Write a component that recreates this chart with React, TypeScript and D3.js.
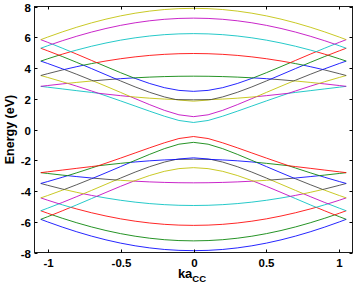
import React, { useEffect, useRef } from "react";
import * as d3 from "d3";

// conduction bands, sorted by energy (cb1 = highest), [ka, E in eV] for ka >= 0
// the plot is mirror symmetric in ka, and the valence bands mirror these in E
const cb1 = [[0, 7.881], [0.1, 7.861], [0.2, 7.802], [0.3, 7.702], [0.4, 7.565], [0.5, 7.39], [0.6, 7.178], [0.7, 6.932], [0.8, 6.654], [0.9, 6.345], [1.0, 6.01], [1.047, 5.843]];
const cb2 = [[0, 7.243], [0.1, 7.224], [0.2, 7.167], [0.3, 7.072], [0.4, 6.941], [0.5, 6.773], [0.6, 6.571], [0.7, 6.335], [0.8, 6.068], [0.9, 5.771], [0.968, 5.552], [1.0, 5.671], [1.047, 5.843]];
const cb3 = [[0, 6.236], [0.1, 6.219], [0.2, 6.168], [0.3, 6.082], [0.4, 5.963], [0.5, 5.811], [0.6, 5.627], [0.7, 5.413], [0.8, 5.169], [0.841, 5.061], [0.9, 5.292], [0.968, 5.552], [1.0, 5.446], [1.047, 5.285]];
const cb4 = [[0, 4.943], [0.1, 4.929], [0.2, 4.888], [0.3, 4.82], [0.4, 4.724], [0.5, 4.603], [0.6, 4.456], [0.664, 4.349], [0.7, 4.496], [0.8, 4.899], [0.841, 5.061], [0.9, 4.897], [0.922, 4.833], [1.0, 5.118], [1.047, 5.285]];
const cb5 = [[0, 3.468], [0.1, 3.462], [0.2, 3.442], [0.3, 3.408], [0.4, 3.362], [0.41, 3.357], [0.5, 3.696], [0.6, 4.092], [0.664, 4.349], [0.7, 4.284], [0.754, 4.181], [0.8, 4.363], [0.9, 4.749], [0.922, 4.833], [1.0, 4.598], [1.047, 4.449]];
const cb6 = [[0, 2.481], [0.1, 2.544], [0.2, 2.721], [0.3, 2.99], [0.4, 3.323], [0.41, 3.357], [0.5, 3.304], [0.531, 3.283], [0.6, 3.561], [0.7, 3.965], [0.754, 4.181], [0.8, 4.088], [0.886, 3.902], [0.9, 3.951], [1.0, 4.295], [1.047, 4.449]];
const cb7 = [[0, 1.932], [0.1, 1.944], [0.121, 1.949], [0.2, 2.119], [0.3, 2.416], [0.4, 2.771], [0.5, 3.159], [0.531, 3.283], [0.6, 3.234], [0.688, 3.163], [0.7, 3.208], [0.8, 3.588], [0.886, 3.902], [0.9, 3.87], [1.0, 3.63], [1.047, 3.51]];
const cb8 = [[0, 1.843], [0.1, 1.916], [0.121, 1.949], [0.2, 1.979], [0.3, 2.036], [0.4, 2.111], [0.432, 2.138], [0.5, 2.413], [0.6, 2.815], [0.688, 3.163], [0.7, 3.154], [0.8, 3.063], [0.863, 3.002], [0.9, 3.11], [1.0, 3.386], [1.047, 3.51]];
const cb9 = [[0, 0.836], [0.1, 0.956], [0.2, 1.246], [0.3, 1.613], [0.4, 2.009], [0.432, 2.138], [0.5, 2.201], [0.6, 2.302], [0.653, 2.359], [0.7, 2.509], [0.8, 2.816], [0.863, 3.002], [0.9, 2.965], [1.0, 2.859], [1.047, 2.807]];
const cb10 = [[0, 0.457], [0.1, 0.587], [0.2, 0.866], [0.3, 1.189], [0.4, 1.525], [0.5, 1.86], [0.6, 2.189], [0.653, 2.359], [0.7, 2.412], [0.8, 2.525], [0.9, 2.64], [1.0, 2.754], [1.047, 2.807]];

const conductionBands = [cb1, cb2, cb3, cb4, cb5, cb6, cb7, cb8, cb9, cb10];
const conductionColors = ["#bfbf00", "#bf00bf", "#00bfbf", "#ff0000", "#008000", "#0000ff", "#404040", "#bfbf00", "#bf00bf", "#00bfbf"];
const valenceColors = ["#0000ff", "#008000", "#ff0000", "#00bfbf", "#bf00bf", "#bfbf00", "#404040", "#0000ff", "#008000", "#ff0000"];

const xTicks = [-1, -0.5, 0, 0.5, 1];
const yTicks = [-8, -6, -4, -2, 0, 2, 4, 6, 8];

const App = () => {
  const ref = useRef<SVGSVGElement>(null);

  useEffect(() => {
    const width = 357;
    const height = 290;
    const margin = { top: 6.5, right: 4.5, bottom: 37.5, left: 34.5 };
    const font = "'Liberation Sans', Arial, sans-serif";

    const svg = d3.select(ref.current);
    svg.selectAll("*").remove();

    const x = d3.scaleLinear()
      .domain([-1.09, 1.09])
      .range([margin.left, width - margin.right]);

    const y = d3.scaleLinear()
      .domain([-8, 8])
      .range([height - margin.bottom, margin.top]);

    const mirror = (half: number[][]) =>
      [...half.slice(1).map(([k, e]) => [-k, e]).reverse(), ...half];

    const line = d3.line<number[]>()
      .x(d => x(d[0]))
      .y(d => y(d[1]));

    const g = svg.append("g")
      .attr("fill", "none")
      .attr("stroke-width", 1)
      .attr("stroke-opacity", 0.85);

    // valence bands, lowest first
    conductionBands.forEach((band, i) => {
      const pts = mirror(band).map(([k, e]) => [k, -e]);
      g.append("path").attr("d", line(pts)).attr("stroke", valenceColors[i]);
    });

    // conduction bands, lowest first
    conductionBands.slice().reverse().forEach((band, j) => {
      const i = conductionBands.length - 1 - j;
      g.append("path").attr("d", line(mirror(band))).attr("stroke", conductionColors[i]);
    });

    // axes box
    const [x0, x1] = x.range();
    const [y0, y1] = y.range();
    svg.append("rect")
      .attr("x", x0).attr("y", y1)
      .attr("width", x1 - x0).attr("height", y0 - y1)
      .attr("fill", "none").attr("stroke", "#1a1a1a");

    const tickLen = 3;
    xTicks.forEach(t => {
      const px = Math.round(x(t)) + 0.5;
      svg.append("line").attr("x1", px).attr("x2", px).attr("y1", y0).attr("y2", y0 - tickLen).attr("stroke", "#000");
      svg.append("line").attr("x1", px).attr("x2", px).attr("y1", y1).attr("y2", y1 + tickLen).attr("stroke", "#000");
      svg.append("text")
        .attr("x", px).attr("y", 267)
        .attr("text-anchor", "middle")
        .style("font", `bold 11.5px ${font}`)
        .text(String(t));
    });

    yTicks.forEach(t => {
      const py = Math.round(y(t)) + 0.5;
      svg.append("line").attr("x1", x0).attr("x2", x0 + tickLen).attr("y1", py).attr("y2", py).attr("stroke", "#000");
      svg.append("line").attr("x1", x1).attr("x2", x1 - tickLen).attr("y1", py).attr("y2", py).attr("stroke", "#000");
      svg.append("text")
        .attr("x", 31).attr("y", py)
        .attr("dy", "0.36em")
        .attr("text-anchor", "end")
        .style("font", `bold 11.5px ${font}`)
        .text(String(t));
    });

    svg.append("text")
      .attr("transform", `translate(14,${(y0 + y1) / 2}) rotate(-90)`)
      .attr("text-anchor", "middle")
      .style("font", `bold 12.5px ${font}`)
      .text("Energy (eV)");

    const xl = svg.append("text")
      .attr("x", 192).attr("y", 278)
      .attr("text-anchor", "middle")
      .style("font", `bold 13px ${font}`);
    xl.append("tspan").text("ka");
    xl.append("tspan").attr("dy", 4).style("font-size", "9.5px").text("CC");
  }, []);

  return (
    <svg
      ref={ref}
      width={357}
      height={290}
      style={{ position: "absolute", left: 0, top: 0, background: "#fff" }}
    ></svg>
  );
};

export default App;
